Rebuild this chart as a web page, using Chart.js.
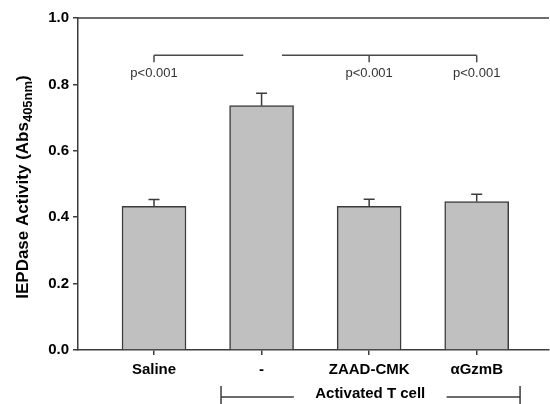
<!DOCTYPE html>
<html>
<head>
<meta charset="utf-8">
<script src="https://cdn.jsdelivr.net/npm/chart.js@4/dist/chart.umd.min.js"></script>
<style>
  html, body { margin: 0; padding: 0; background: #fff; }
</style>
</head>
<body>
<canvas id="iepdaseChart" width="550" height="404"></canvas>
<script>
var groups = ["Saline", "-", "ZAAD-CMK", "\u03b1GzmB"];
var meanActivity = [0.433, 0.736, 0.433, 0.447];
var semActivity = [0.020, 0.037, 0.021, 0.022];
var yTicks = [0.0, 0.2, 0.4, 0.6, 0.8, 1.0];
var pValueText = "p<0.001";

var lineColor = '#3c3c3c';
var fontFamily = '"Liberation Sans", Arial, sans-serif';

// x positions are in category units (Saline = 1 ... aGzmB = 4)
var sigBrackets = [
    { from: 1, to: 1.83, drops: [1], labels: [1] },
    { from: 2.19, to: 4, drops: [3, 4], labels: [3, 4] }
];
var treatedBracket = { from: 1.623, to: 4.403, gapFrom: 2.30, gapTo: 3.72, text: "Activated T cell" };

var overlay = {
    id: 'overlay',
    afterDatasetsDraw: function (chart) {
        var ctx = chart.ctx;
        var xs = chart.scales.x, ys = chart.scales.y;
        var area = chart.chartArea;
        ctx.save();
        ctx.strokeStyle = lineColor;
        ctx.lineWidth = 1.5;

        // top frame line
        ctx.beginPath();
        ctx.moveTo(area.left, area.top);
        ctx.lineTo(area.right, area.top);
        ctx.stroke();

        // error bars (upper half only)
        meanActivity.forEach(function (m, i) {
            var x = xs.getPixelForValue(i + 1);
            var yb = ys.getPixelForValue(m);
            var yt = ys.getPixelForValue(m + semActivity[i]);
            ctx.beginPath();
            ctx.moveTo(x, yb);
            ctx.lineTo(x, yt);
            ctx.moveTo(x - 5.5, yt);
            ctx.lineTo(x + 5.5, yt);
            ctx.stroke();
        });

        // significance brackets
        var by = ys.getPixelForValue(0.888);
        ctx.strokeStyle = '#4a4a4a';
        ctx.fillStyle = '#333';
        ctx.font = '13px ' + fontFamily;
        ctx.textAlign = 'center';
        ctx.textBaseline = 'middle';
        sigBrackets.forEach(function (b) {
            ctx.beginPath();
            ctx.moveTo(xs.getPixelForValue(b.from), by);
            ctx.lineTo(xs.getPixelForValue(b.to), by);
            b.drops.forEach(function (d) {
                var dx = xs.getPixelForValue(d);
                ctx.moveTo(dx, by);
                ctx.lineTo(dx, by + 7);
            });
            ctx.stroke();
            b.labels.forEach(function (l) {
                ctx.fillText(pValueText, xs.getPixelForValue(l), by + 18);
            });
        });

        // group bracket under the treated conditions
        var gy = 397;
        var gx0 = xs.getPixelForValue(treatedBracket.from);
        var gx1 = xs.getPixelForValue(treatedBracket.to);
        var g0 = xs.getPixelForValue(treatedBracket.gapFrom);
        var g1 = xs.getPixelForValue(treatedBracket.gapTo);
        ctx.strokeStyle = lineColor;
        ctx.beginPath();
        ctx.moveTo(gx0, gy - 11); ctx.lineTo(gx0, 404);
        ctx.moveTo(gx1, gy - 11); ctx.lineTo(gx1, 404);
        ctx.moveTo(gx0, gy); ctx.lineTo(g0, gy);
        ctx.moveTo(g1, gy); ctx.lineTo(gx1, gy);
        ctx.stroke();
        ctx.fillStyle = '#000';
        ctx.font = 'bold 15px ' + fontFamily;
        ctx.fillText(treatedBracket.text, (g0 + g1) / 2, gy - 3);

        // y axis title with subscript
        var main = "IEPDase Activity (Abs", sub = "405nm", tail = ")";
        ctx.font = 'bold 17px ' + fontFamily;
        var wMain = ctx.measureText(main).width, wTail = ctx.measureText(tail).width;
        ctx.font = 'bold 13px ' + fontFamily;
        var wSub = ctx.measureText(sub).width;
        var total = wMain + wSub + wTail;
        ctx.translate(23, (area.top + area.bottom) / 2 + 3);
        ctx.rotate(-Math.PI / 2);
        ctx.textAlign = 'left';
        ctx.textBaseline = 'middle';
        var sx = -total / 2;
        ctx.font = 'bold 17px ' + fontFamily;
        ctx.fillText(main, sx, 0);
        ctx.font = 'bold 13px ' + fontFamily;
        ctx.fillText(sub, sx + wMain, 5);
        ctx.font = 'bold 17px ' + fontFamily;
        ctx.fillText(tail, sx + wMain + wSub, 0);
        ctx.restore();
    }
};

var barPoints = groups.map(function (g, i) {
    return { x: i + 1, y: meanActivity[i] };
});

var ctx = document.getElementById('iepdaseChart').getContext('2d');
var chart = new Chart(ctx, {
    type: 'bar',
    data: {
        datasets: [{
            data: barPoints,
            backgroundColor: '#c0c0c0',
            borderColor: lineColor,
            borderWidth: 1.5,
            barThickness: 64
        }]
    },
    options: {
        responsive: false,
        animation: false,
        devicePixelRatio: 1,
        layout: { padding: { top: 18, right: 1, left: 0, bottom: 0 } },
        plugins: { legend: { display: false }, tooltip: { enabled: false } },
        scales: {
            x: {
                type: 'linear',
                offset: false,
                min: 0.2934,
                max: 4.672,
                afterBuildTicks: function (s) {
                    s.ticks = groups.map(function (g, i) { return { value: i + 1 }; });
                },
                afterFit: function (s) { s.height = 54; },
                grid: { offset: false, drawOnChartArea: false, tickLength: 5, color: lineColor, lineWidth: 1.5 },
                border: { color: lineColor, width: 1.5 },
                ticks: {
                    autoSkip: false,
                    maxRotation: 0,
                    padding: 6,
                    color: '#000',
                    font: { family: fontFamily, size: 15, weight: 'bold' },
                    callback: function (v) { return groups[v - 1]; }
                }
            },
            y: {
                min: 0,
                max: 1,
                afterBuildTicks: function (s) {
                    s.ticks = yTicks.map(function (v) { return { value: v }; });
                },
                afterFit: function (s) { s.width = 78; },
                grid: { drawOnChartArea: false, tickLength: 5, color: lineColor, lineWidth: 1.5 },
                border: { color: lineColor, width: 1.5 },
                ticks: {
                    padding: 4,
                    color: '#000',
                    font: { family: fontFamily, size: 15, weight: 'bold' },
                    callback: function (v) { return v.toFixed(1); }
                }
            }
        }
    },
    plugins: [overlay]
});
</script>
</body>
</html>
